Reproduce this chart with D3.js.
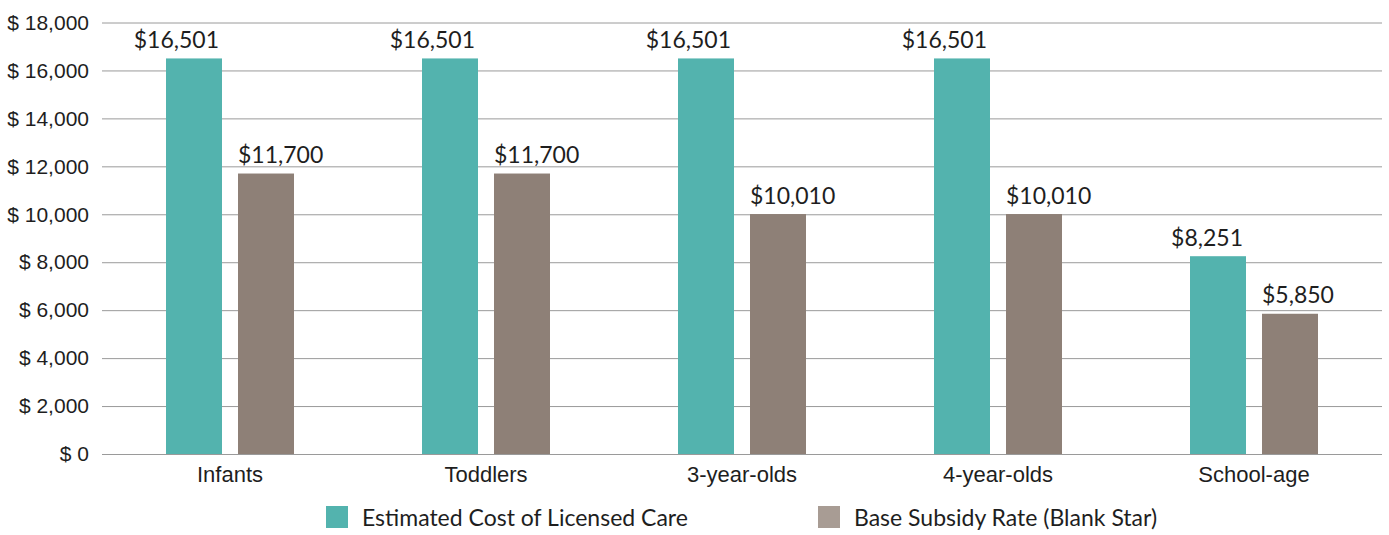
<!DOCTYPE html>
<html>
<head>
<meta charset="utf-8">
<script src="https://cdn.jsdelivr.net/npm/d3@7"></script>
<style>
  html, body { margin: 0; padding: 0; background: #fff; }
  svg { display: block; font-family: Lato, "Noto Sans", sans-serif; }
</style>
</head>
<body>
<svg id="chart" width="1389" height="535"></svg>
<script>
// Annual cost of care vs. base subsidy rate by age group
const categories = ["Infants", "Toddlers", "3-year-olds", "4-year-olds", "School-age"];
const seriesNames = ["Estimated Cost of Licensed Care", "Base Subsidy Rate (Blank Star)"];
const estimatedCost = [16501, 16501, 16501, 16501, 8251];
const baseSubsidy = [11700, 11700, 10010, 10010, 5850];
const yTicks = [0, 2000, 4000, 6000, 8000, 10000, 12000, 14000, 16000, 18000];

const barColors = ["#53b3ae", "#8e8077"];
const legendColors = ["#53b3ae", "#a89c94"];
const textColor = "#1e1e1e";

const svg = d3.select("#chart");

const plot = { left: 102, right: 1382, top: 22.5, bottom: 454 };

const x0 = d3.scaleBand().domain(categories).range([plot.left, plot.right]).padding(0);
const x1 = d3.scaleBand().domain(seriesNames).range([-64, 64]).paddingInner(0.2222).paddingOuter(0);
const y = d3.scaleLinear().domain([0, 18000]).range([plot.bottom, plot.top]);

// Gridlines and y labels
const yAxis = d3.axisLeft(y)
  .tickValues(yTicks)
  .tickSize(-(plot.right - plot.left))
  .tickPadding(13)
  .tickFormat(d => "$ " + d3.format(",")(d));

const gy = svg.append("g")
  .attr("transform", `translate(${plot.left},0)`)
  .call(yAxis);
gy.select(".domain").remove();
gy.selectAll(".tick line").attr("stroke", "#9a9a9a").attr("stroke-width", 1);
gy.selectAll(".tick text")
  .attr("fill", textColor)
  .style("font-size", "21px");

// Category labels
const xAxis = d3.axisBottom(x0).tickSize(0).tickPadding(12);
const gx = svg.append("g")
  .attr("transform", `translate(0,${plot.bottom})`)
  .call(xAxis);
gx.select(".domain").remove();
gx.selectAll(".tick text")
  .attr("fill", textColor)
  .style("font-size", "22px");

// Bars
const rows = categories.map((c, i) => ({
  category: c,
  values: [
    { series: seriesNames[0], value: estimatedCost[i], idx: 0 },
    { series: seriesNames[1], value: baseSubsidy[i], idx: 1 }
  ]
}));

const groups = svg.append("g").selectAll("g")
  .data(rows)
  .join("g")
  .attr("transform", d => `translate(${x0(d.category) + x0.bandwidth() / 2},0)`);

groups.selectAll("rect")
  .data(d => d.values)
  .join("rect")
  .attr("x", d => x1(d.series))
  .attr("y", d => y(d.value))
  .attr("width", x1.bandwidth())
  .attr("height", d => y(0) - y(d.value))
  .attr("fill", d => barColors[d.idx]);

// Value labels: cost labels end at the bar's right edge, subsidy labels start at the bar's left edge
groups.selectAll("text.value")
  .data(d => d.values)
  .join("text")
  .attr("class", "value")
  .attr("x", d => d.idx === 0 ? x1(d.series) + x1.bandwidth() - 3 : x1(d.series))
  .attr("y", d => y(d.value) - 10.5)
  .attr("text-anchor", d => d.idx === 0 ? "end" : "start")
  .attr("fill", textColor)
  .style("font-size", "23px")
  .text(d => "$" + d3.format(",")(d.value));

// Legend
const legendX = [326, 818];
const legend = svg.append("g").selectAll("g")
  .data(seriesNames)
  .join("g")
  .attr("transform", (d, i) => `translate(${legendX[i]},506)`);

legend.append("rect")
  .attr("width", 22)
  .attr("height", 22)
  .attr("fill", (d, i) => legendColors[i]);

legend.append("text")
  .attr("x", 36)
  .attr("y", 12)
  .attr("dy", "0.35em")
  .attr("fill", textColor)
  .style("font-size", "23px")
  .text(d => d);
</script>
</body>
</html>
